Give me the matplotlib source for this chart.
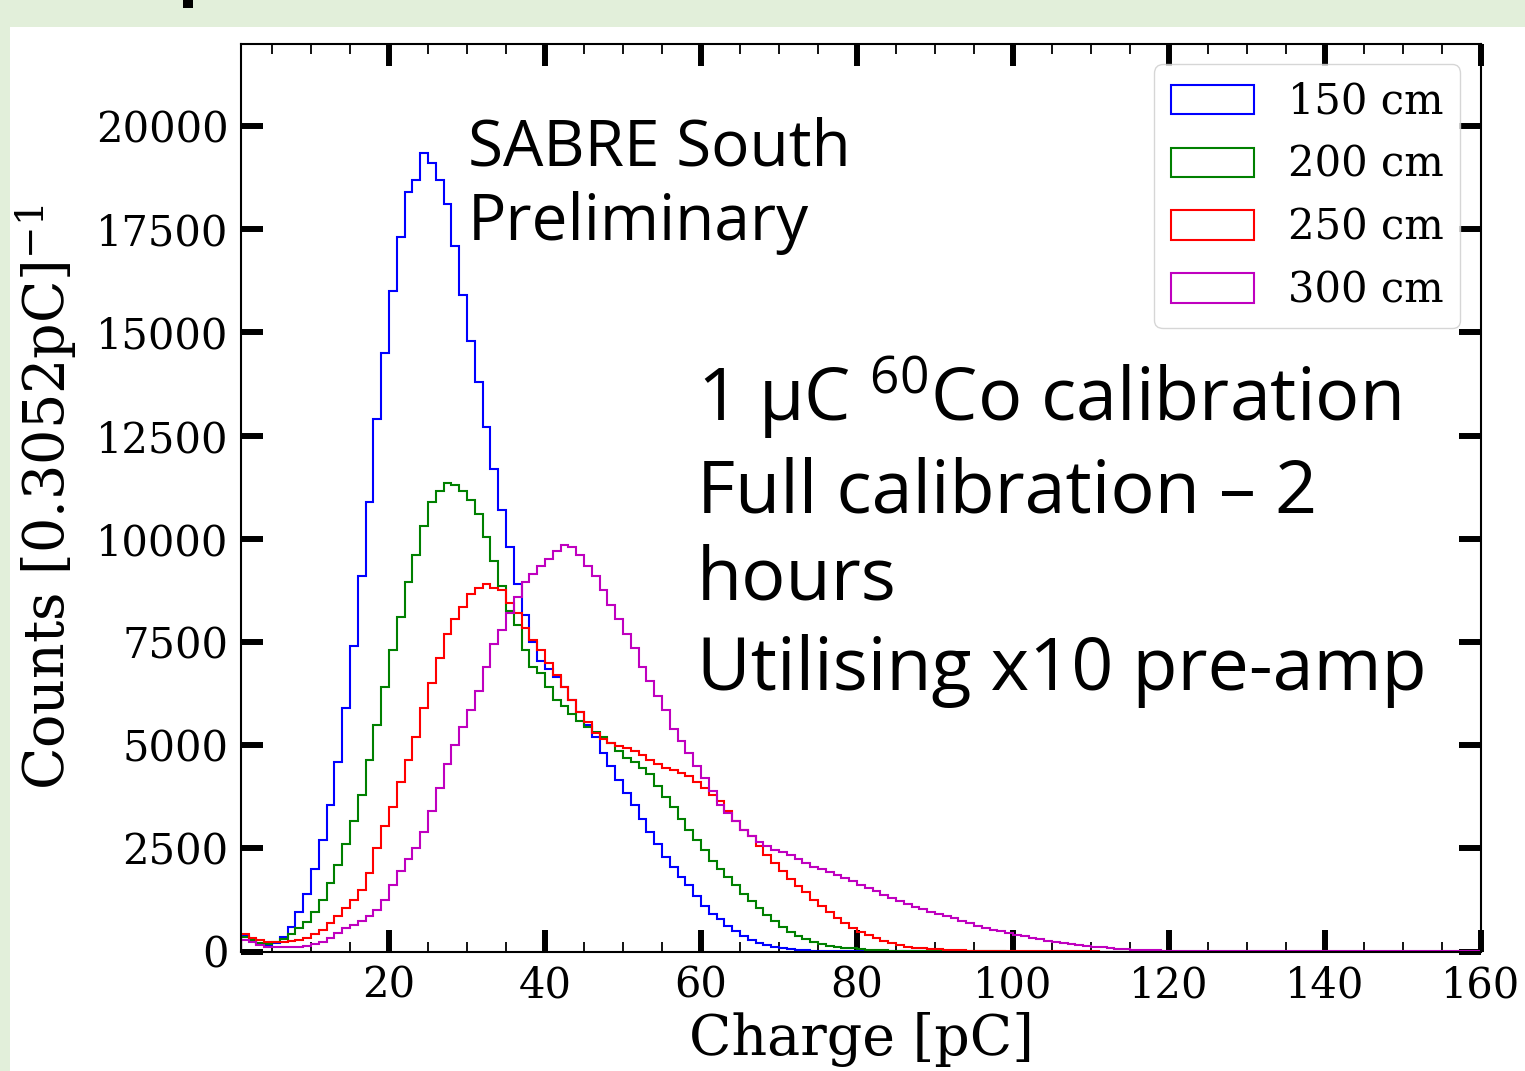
import numpy as np
import matplotlib
matplotlib.use('Agg')
import matplotlib.pyplot as plt
from matplotlib.patches import Rectangle
from matplotlib.ticker import MultipleLocator, AutoMinorLocator, NullLocator

# histogram contents, 1 pC bins from 1 to 120 pC, last bin 120-160 pC
bin_edges = np.append(np.arange(1, 121), 160)
bin_centers = 0.5 * (bin_edges[:-1] + bin_edges[1:])

counts_150 = [
    380, 300, 180, 150, 200, 350, 600, 950, 1400, 2000,
    2700, 3550, 4600, 5900, 7400, 9100, 10900, 12900, 14500, 16000,
    17300, 18400, 18700, 19350, 19100, 18700, 18100, 17100, 15900, 14800,
    13800, 12700, 11700, 10700, 9800, 8900, 8150, 7500, 7050, 6850,
    6650, 6400, 6100, 5800, 5500, 5200, 4800, 4500, 4150, 3850,
    3550, 3200, 2900, 2600, 2300, 2050, 1800, 1600, 1350, 1100,
    900, 780, 620, 500, 380, 280, 210, 150, 110, 80,
    60, 45, 30, 20, 15, 10, 8, 6, 5, 4,
    3, 3, 2, 2, 2, 1, 1, 1, 1, 0,
    0, 0, 0, 0, 0, 0, 0, 0, 0, 0,
    0, 0, 0, 0, 0, 0, 0, 0, 0, 0,
    0, 0, 0, 0, 0, 0, 0, 0, 0, 0,
]
counts_200 = [
    350, 280, 200, 170, 220, 300, 420, 560, 720, 950,
    1250, 1650, 2100, 2600, 3150, 3800, 4650, 5500, 6400, 7300,
    8100, 8950, 9600, 10300, 10900, 11150, 11350, 11300, 11150, 10950,
    10600, 10050, 9450, 8850, 8250, 7900, 7300, 6900, 6750, 6400,
    6100, 5950, 5750, 5580, 5450, 5320, 5200, 5050, 4850, 4700,
    4600, 4450, 4300, 4000, 3750, 3500, 3200, 2950, 2700, 2450,
    2200, 2000, 1800, 1600, 1400, 1230, 1050, 880, 730, 600,
    480, 380, 300, 230, 180, 140, 110, 90, 75, 60,
    45, 35, 25, 20, 15, 10, 8, 6, 5, 4,
    3, 3, 2, 2, 1, 1, 1, 1, 0, 0,
    0, 0, 0, 0, 0, 0, 0, 0, 0, 0,
    0, 0, 0, 0, 0, 0, 0, 0, 0, 0,
]
counts_250 = [
    420, 330, 270, 230, 220, 230, 260, 290, 330, 420,
    530, 680, 860, 1050, 1250, 1500, 1900, 2500, 3050, 3500,
    4100, 4650, 5200, 5900, 6500, 7100, 7700, 8050, 8350, 8650,
    8800, 8900, 8800, 8750, 8450, 8200, 7850, 7550, 7300, 7000,
    6700, 6400, 6100, 5800, 5550, 5300, 5150, 5050, 4980, 4920,
    4850, 4750, 4650, 4550, 4450, 4400, 4320, 4250, 4100, 3950,
    3800, 3650, 3400, 3150, 2950, 2800, 2550, 2350, 2150, 1950,
    1750, 1580, 1430, 1250, 1100, 950, 820, 700, 580, 480,
    400, 320, 250, 200, 160, 120, 95, 75, 60, 50,
    40, 32, 25, 20, 17, 15, 12, 10, 8, 6,
    5, 4, 3, 3, 2, 2, 1, 1, 1, 1,
    0, 0, 0, 0, 0, 0, 0, 0, 0, 0,
]
counts_300 = [
    280, 220, 160, 120, 100, 100, 110, 120, 130, 170,
    230, 330, 450, 560, 650, 750, 850, 1000, 1250, 1600,
    1950, 2250, 2500, 2900, 3400, 3950, 4550, 5000, 5450, 5850,
    6300, 6900, 7450, 7800, 8200, 8600, 8950, 9150, 9350, 9500,
    9700, 9850, 9800, 9600, 9350, 9100, 8750, 8400, 8050, 7700,
    7350, 6900, 6550, 6200, 5850, 5400, 5100, 4800, 4500, 4200,
    3900, 3550, 3350, 3150, 2950, 2800, 2650, 2550, 2450, 2400,
    2330, 2250, 2150, 2050, 2000, 1930, 1850, 1780, 1700, 1620,
    1550, 1460, 1380, 1300, 1230, 1150, 1080, 1020, 960, 900,
    850, 800, 740, 680, 620, 570, 530, 490, 450, 410,
    370, 330, 300, 260, 230, 200, 180, 160, 140, 120,
    100, 80, 65, 55, 45, 35, 30, 25, 20, 5,
]

labels = ['150 cm', '200 cm', '250 cm', '300 cm']
colors = ['b', 'g', 'r', 'm']

W, H = 1525, 1071
plt.rcParams['font.family'] = 'DejaVu Serif'
plt.rcParams['mathtext.default'] = 'regular'

fig = plt.figure(figsize=(W / 100, H / 100), dpi=100)
fig.patch.set_facecolor('#e2efda')
fig.add_artist(Rectangle((10 / W, 0), 1 - 10 / W, 1 - 27 / H, transform=fig.transFigure,
                         facecolor='white', edgecolor='none', zorder=-10))
fig.add_artist(Rectangle((183 / W, 1 - 8 / H), 10 / W, 8 / H, transform=fig.transFigure,
                         facecolor='black', edgecolor='none'))

ax = fig.add_axes([241 / W, 1 - 951.5 / H, 1240 / W, 908 / H])
ax.patch.set_alpha(0)

for counts, lab, col in zip([counts_150, counts_200, counts_250, counts_300], labels, colors):
    ax.hist(bin_centers, bins=bin_edges, weights=counts, histtype='step',
            color=col, lw=1.5, label=lab)

ax.set_xlim(1.03, 160)
ax.set_ylim(0, 22000)
ax.xaxis.set_major_locator(MultipleLocator(20))
ax.xaxis.set_minor_locator(AutoMinorLocator(4))
ax.yaxis.set_major_locator(MultipleLocator(2500))
ax.yaxis.set_minor_locator(NullLocator())
ax.tick_params(which='major', direction='in', length=16, width=4.3, top=True, right=True,
               labelsize=30, pad=9)
ax.tick_params(which='minor', direction='in', length=7, width=1.3, top=True, right=True)
for sp in ax.spines.values():
    sp.set_linewidth(1.5)

ax.set_xlabel('Charge [pC]', fontsize=40, labelpad=4)
ax.set_ylabel('Counts [0.3052pC]$^{-1}$', fontsize=40, labelpad=12)

ax.legend(loc='upper right', fontsize=30, labelspacing=0.5, borderaxespad=0.5)

# slide annotations (Open Sans)
def px_text(x, y, s, size):
    fig.text(x / W, 1 - y / H, s, fontsize=size, family='Open Sans', va='baseline', ha='left')

px_text(468, 165, 'SABRE South', 46)
px_text(468, 240, 'Preliminary', 46)
px_text(697, 422, '1 μC $^{60}$Co calibration', 53)
px_text(697, 512, 'Full calibration – 2', 53)
px_text(697, 600, 'hours', 53)
px_text(697, 690, 'Utilising x10 pre-amp', 53)

fig.savefig('out.png', dpi=100, facecolor=fig.get_facecolor())
